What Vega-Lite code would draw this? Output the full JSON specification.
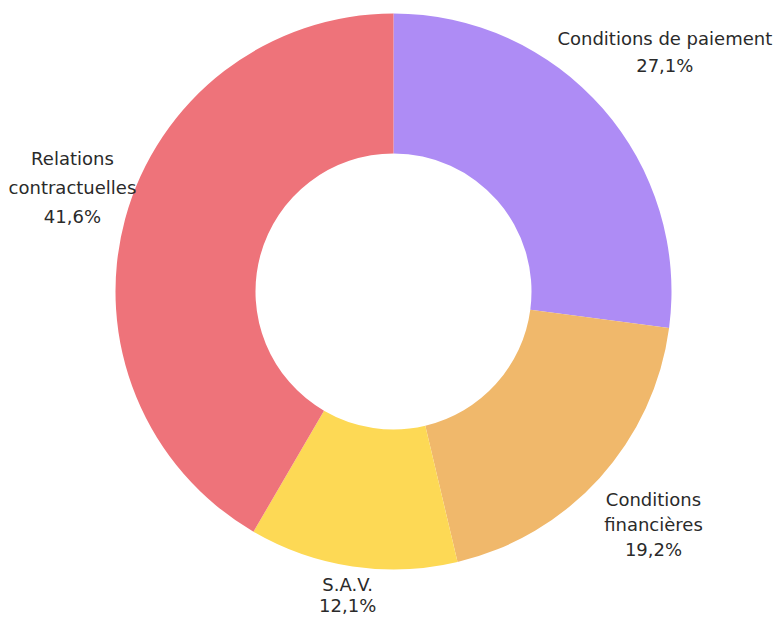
{
  "$schema": "https://vega.github.io/schema/vega-lite/v6.json",
  "width": 777,
  "height": 583,
  "autosize": {"type": "none"},
  "padding": {"left": 5, "top": 0, "right": 0, "bottom": 34},
  "background": "#ffffff",
  "view": {"stroke": null},
  "data": {
    "values": [
      {"categorie": "Conditions de paiement", "part": 27.1, "ordre": 1, "etiquette": "Conditions de paiement\n27,1%"},
      {"categorie": "Conditions financières", "part": 19.2, "ordre": 2, "etiquette": "Conditions\nfinancières\n19,2%"},
      {"categorie": "S.A.V.", "part": 12.1, "ordre": 3, "etiquette": "S.A.V.\n12,1%"},
      {"categorie": "Relations contractuelles", "part": 41.6, "ordre": 4, "etiquette": "Relations\ncontractuelles\n41,6%"}
    ]
  },
  "encoding": {
    "theta": {"field": "part", "type": "quantitative", "stack": true},
    "order": {"field": "ordre", "type": "quantitative"}
  },
  "layer": [
    {
      "mark": {"type": "arc", "outerRadius": 278, "innerRadius": 138},
      "encoding": {
        "color": {
          "field": "categorie",
          "type": "nominal",
          "scale": {
            "domain": ["Conditions de paiement", "Conditions financières", "S.A.V.", "Relations contractuelles"],
            "range": ["#AE8CF5", "#F0B86B", "#FDD955", "#EE737A"]
          },
          "legend": null
        }
      }
    },
    {
      "mark": {"type": "text", "radius": 370, "dx": -7, "dy": -8, "font": "DejaVu Sans", "fontSize": 18, "color": "#2a2a2a", "lineBreak": "\n", "lineHeight": 27, "align": "center", "baseline": "middle"},
      "encoding": {
        "text": {"condition": {"test": "datum.categorie === 'Conditions de paiement'", "field": "etiquette"}, "value": ""}
      }
    },
    {
      "mark": {"type": "text", "radius": 333, "dx": 13, "dy": -14, "font": "DejaVu Sans", "fontSize": 18, "color": "#2a2a2a", "lineBreak": "\n", "lineHeight": 25, "align": "center", "baseline": "middle"},
      "encoding": {
        "text": {"condition": {"test": "datum.categorie === 'Conditions financières'", "field": "etiquette"}, "value": ""}
      }
    },
    {
      "mark": {"type": "text", "radius": 298, "dx": -2, "dy": 0, "font": "DejaVu Sans", "fontSize": 18, "color": "#2a2a2a", "lineBreak": "\n", "lineHeight": 21, "align": "center", "baseline": "middle"},
      "encoding": {
        "text": {"condition": {"test": "datum.categorie === 'S.A.V.'", "field": "etiquette"}, "value": ""}
      }
    },
    {
      "mark": {"type": "text", "radius": 345, "dx": 12, "dy": -42, "font": "DejaVu Sans", "fontSize": 18, "color": "#2a2a2a", "lineBreak": "\n", "lineHeight": 29, "align": "center", "baseline": "middle"},
      "encoding": {
        "text": {"condition": {"test": "datum.categorie === 'Relations contractuelles'", "field": "etiquette"}, "value": ""}
      }
    }
  ]
}
